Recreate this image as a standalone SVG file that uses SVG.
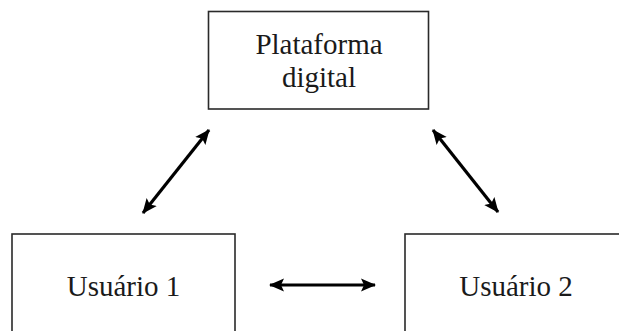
<svg xmlns="http://www.w3.org/2000/svg" width="619" height="331" viewBox="0 0 619 331">
<defs>
<style>
.box{fill:#fff;stroke:#2a2a2a;stroke-width:1.6}
.lbl{font-family:"Liberation Serif","Times New Roman",serif;font-size:29px;fill:#1a1a1a;text-anchor:middle}
.con{stroke:#000;stroke-width:3.2;fill:none;marker-start:url(#ah);marker-end:url(#ah)}
</style>
<marker id="ah" markerUnits="userSpaceOnUse" markerWidth="16" markerHeight="16" viewBox="0 0 16 16" refX="14" refY="8" orient="auto-start-reverse">
<path d="M0,1.5 L15,8 L0,14.5 L3,8 Z" fill="#000"/>
</marker>
</defs>
<rect width="619" height="331" fill="#fff"/>
<g id="plataforma">
<rect class="box" x="208.5" y="11.5" width="220" height="97.5"/>
<text class="lbl" x="319" y="54">Plataforma</text>
<text class="lbl" x="319" y="87">digital</text>
</g>
<g id="usuario1">
<rect class="box" x="12" y="234" width="223" height="110"/>
<text class="lbl" x="123.5" y="296">Usuário 1</text>
</g>
<g id="usuario2">
<rect class="box" x="405" y="234" width="230" height="110"/>
<text class="lbl" x="516" y="296">Usuário 2</text>
</g>
<g id="connectors">
<line class="con" x1="143" y1="213" x2="209" y2="130"/>
<line class="con" x1="433" y1="130" x2="498" y2="212"/>
<line class="con" x1="270" y1="285" x2="375" y2="285"/>
</g>
</svg>
